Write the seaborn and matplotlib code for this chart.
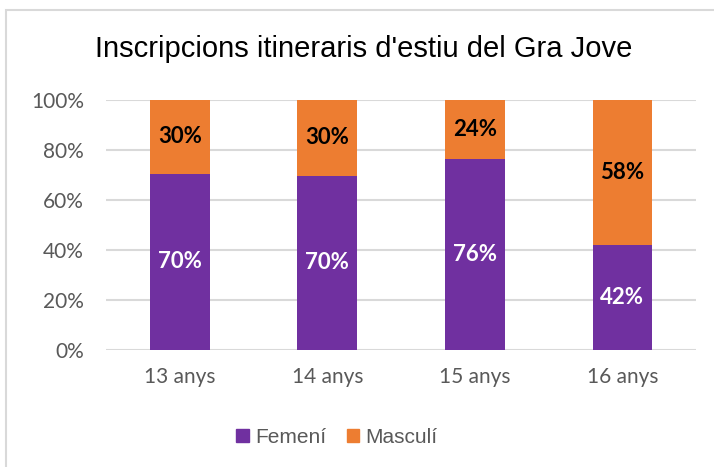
import matplotlib
matplotlib.use('Agg')
import matplotlib.pyplot as plt
import seaborn as sns
import pandas as pd
from matplotlib.patches import Rectangle, Patch

# Data
edats = ['13 anys', '14 anys', '15 anys', '16 anys']
femeni = [70.4, 69.6, 76.4, 41.8]
masculi = [29.6, 30.4, 23.6, 58.2]

purple = '#7030A0'
orange = '#ED7D31'

sns.set_style('white')
plt.rcParams['font.family'] = ['Liberation Sans', 'DejaVu Sans']

df = pd.DataFrame({'edat': edats, 'Femení': femeni, 'Masculí': masculi})
df['total'] = df['Femení'] + df['Masculí']

fig = plt.figure(figsize=(7.14, 4.67), dpi=100)
ax = fig.add_axes([0.1485, 0.2505, 0.8265, 0.5355])

# outer chart border
fig.patches.append(Rectangle((6 / 714, -0.1), 1.1, 1 - 10 / 467 + 0.1, transform=fig.transFigure,
                             fill=False, edgecolor='#D9D9D9', linewidth=1.5))

sns.barplot(data=df, x='edat', y='total', color=orange, width=0.405, saturation=1,
            linewidth=0, ax=ax, zorder=3)
sns.barplot(data=df, x='edat', y='Femení', color=purple, width=0.405, saturation=1,
            linewidth=0, ax=ax, zorder=3)

for i, (f, m) in enumerate(zip(femeni, masculi)):
    ax.text(i, f / 2, f'{round(f)}%', ha='center', va='center', color='white',
            fontsize=16, fontweight='bold', family=['Lato', 'DejaVu Sans'], zorder=4)
    ax.text(i, f + m / 2, f'{round(m)}%', ha='center', va='center', color='black',
            fontsize=16, fontweight='bold', family=['Lato', 'DejaVu Sans'], zorder=4)

ax.set_ylim(0, 100)
ax.set_xlim(-0.5, 3.5)
ax.set_yticks([0, 20, 40, 60, 80, 100])
ax.set_yticklabels([f'{v}%' for v in [0, 20, 40, 60, 80, 100]])
ax.yaxis.grid(True, color='#D9D9D9', linewidth=1.5, zorder=0)
ax.set_axisbelow(True)
ax.tick_params(axis='both', length=0, labelsize=15, labelcolor='#595959')
ax.tick_params(axis='x', pad=12)
ax.tick_params(axis='y', pad=16)
for lab in ax.get_xticklabels() + ax.get_yticklabels():
    lab.set_family(['Lato', 'DejaVu Sans'])
ax.set_xlabel('')
ax.set_ylabel('')
sns.despine(ax=ax, left=True, bottom=True)

fig.text(0.51, 0.895, "Inscripcions itineraris d'estiu del Gra Jove", ha='center', va='center',
         fontsize=21, color='black')

handles = [Patch(color=purple, label='Femení'), Patch(color=orange, label='Masculí')]
fig.legend(handles=handles, loc='center', bbox_to_anchor=(0.472, 0.064), ncol=2, frameon=False,
           fontsize=15, handlelength=0.6, handleheight=0.6, handletextpad=0.3, columnspacing=1.0,
           labelcolor='#595959')

fig.savefig('out.png', dpi=100)
